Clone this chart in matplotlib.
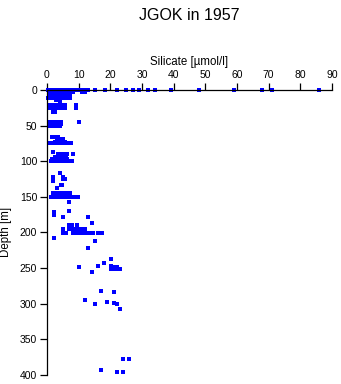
import matplotlib
matplotlib.use("Agg")
import matplotlib.pyplot as plt
import numpy as np

plt.rcParams['font.family'] = ['Liberation Sans', 'DejaVu Sans']

# sampling depths [m] and the silicate readings [umol/l] taken at each one
depth_levels = [0, 3, 6.5, 11, 14, 17, 20.5, 25, 31,
                45, 48, 51, 65.5, 69, 73, 75,
                87, 90, 93.5, 96.5, 99.5,
                117, 122, 125, 128, 133, 138, 145, 148, 150.5, 157,
                169.5, 171, 175.5, 179, 187, 189.5, 195, 200.5,
                208, 212, 222, 237, 243, 247, 249, 251, 255.5,
                283, 284, 295.5, 298, 299.5, 301, 308,
                377.5, 393.5, 396.5]

silicate_at_level = [
    [0.4, 0.8, 1.2, 1.6, 2.0, 2.4, 2.8, 3.2, 3.6, 4.0, 4.4, 4.8, 5.2, 5.6, 6.0,
     6.5, 7.0, 7.5, 8.0, 8.6, 9.4, 10.0, 10.8, 11.5, 12.2, 12.9, 15.2, 18.2,
     22.2, 25.1, 27.2, 29.1, 32.0, 34.1, 39.1, 48.0, 59.0, 68.0, 70.9, 86.0],
    [0.8, 1.3, 1.8, 2.3, 2.9, 3.4, 4.0, 4.6, 5.2, 5.8, 6.4, 7.0, 7.6, 8.2, 11.0, 12.0],
    [0.9, 1.4, 2.0, 2.6, 3.2, 3.8, 4.4, 5.0, 5.6, 6.2, 6.8, 7.4],
    [0.4, 0.9, 1.5, 2.0, 2.6, 3.2, 3.8, 4.4, 5.0, 5.6, 6.2, 6.8, 7.3],
    [2.8, 3.4],
    [4.0],
    [0.5, 1.0, 1.5, 2.0, 2.5, 3.0, 3.5, 4.0, 4.5, 5.8, 9.2],
    [0.5, 1.0, 1.5, 2.0, 2.5, 3.0, 3.5, 4.0, 4.6, 5.2, 5.7, 9.2],
    [1.8, 2.4],
    [1.0, 1.5, 2.0, 2.6, 3.2, 3.8, 4.4, 10.1],
    [0.8, 1.4, 2.0, 2.6, 3.2, 3.8, 4.5],
    [1.0, 1.6, 2.2, 2.8, 3.4, 4.0],
    [1.7, 2.3, 2.9, 3.5],
    [3.1, 3.7, 4.3, 5.0],
    [2.6, 3.2, 3.8, 4.4, 5.0, 5.7],
    [0.6, 1.2, 1.8, 2.4, 3.0, 3.6, 4.2, 4.8, 5.4, 6.0, 6.6, 7.5],
    [2.0],
    [3.6, 4.3, 5.0, 5.6, 6.2, 8.1],
    [2.6, 3.3, 4.0, 4.7, 5.4, 6.1],
    [1.6, 2.3, 3.0, 3.7, 4.4, 5.1, 5.8, 6.3],
    [1.3, 1.9, 2.5, 3.1, 3.7, 4.3, 4.9, 5.5, 6.1, 6.7, 7.3, 7.8],
    [4.1],
    [2.0, 5.2],
    [5.0, 5.6],
    [2.0],
    [4.4, 4.8],
    [3.3],
    [1.8, 2.5, 3.2, 3.9, 4.6, 5.3, 6.0, 6.8, 7.3],
    [1.8, 2.4, 3.0, 3.6, 4.2, 4.8, 5.4, 6.0, 6.6, 7.2],
    [1.3, 1.9, 2.5, 3.1, 3.7, 4.3, 4.9, 5.5, 6.1, 6.7, 7.3, 7.9, 8.6, 9.3, 9.9],
    [7.1],
    [7.1],
    [2.2],
    [2.2],
    [5.2, 13.0],
    [14.1],
    [7.0, 8.0, 9.4],
    [5.2, 7.0, 7.5, 8.1, 8.5, 9.2, 10.2, 11.0, 12.0],
    [4.9, 5.4, 6.0, 8.1, 8.8, 9.4, 10.2, 11.0, 11.5, 12.3, 13.0, 13.6, 14.4,
     16.2, 16.7, 17.3],
    [2.2],
    [15.2],
    [13.1],
    [20.1],
    [18.0],
    [16.2, 20.1],
    [10.1, 20.1, 20.8, 21.5, 22.2],
    [20.1, 21.2, 22.2, 23.2],
    [14.1],
    [17.1],
    [21.3],
    [12.1],
    [19.0],
    [21.2],
    [15.2, 22.2],
    [23.1],
    [24.1, 26.0],
    [17.1],
    [22.2, 24.1],
]

x_ticks = [0, 10, 20, 30, 40, 50, 60, 70, 80, 90]
y_ticks = [0, 50, 100, 150, 200, 250, 300, 350, 400]

depth = []
silicate = []
for d, vals in zip(depth_levels, silicate_at_level):
    for v in vals:
        depth.append(d)
        silicate.append(v)
depth = np.array(depth)
silicate = np.array(silicate)

fig = plt.figure(figsize=(3.41, 3.84), dpi=100)
ax = fig.add_axes([47 / 341, 1 - 374.7 / 384, 285 / 341, 284.7 / 384])

ax.plot(silicate, depth, 's', color='#0000ff', ms=2.2, mew=0, clip_on=False)

ax.set_xlim(0, 90)
ax.set_ylim(400, 0)
ax.set_xticks(x_ticks)
ax.set_yticks(y_ticks)

ax.xaxis.tick_top()
ax.xaxis.set_label_position('top')
ax.spines['right'].set_visible(False)
ax.spines['bottom'].set_visible(False)
ax.tick_params(axis='both', direction='out', length=5, width=0.9,
               labelsize=7.5, pad=2)
for s in ['top', 'left']:
    ax.spines[s].set_linewidth(0.9)

ax.set_xlabel('Silicate [\u00b5mol/l]', fontsize=8.3, labelpad=4)
ax.set_ylabel('Depth [m]', fontsize=8.3, labelpad=6)

fig.text(189.5 / 341, 1 - 15 / 384, 'JGOK in 1957', ha='center', va='center',
         fontsize=11.5)

fig.savefig('out.png', dpi=100)
